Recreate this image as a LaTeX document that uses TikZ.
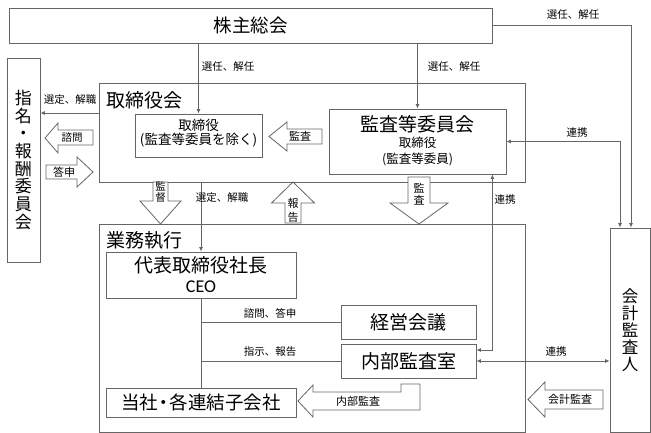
\documentclass[tikz,border=0pt]{standalone}
\usepackage{fontspec}
\setmainfont{Noto Sans CJK JP}
\newfontfamily\calfont{Carlito}
\usetikzlibrary{arrows.meta,calc}
\newcommand{\fsz}[1]{\fontsize{#1}{#1}\selectfont}
\newcommand{\fszl}[2]{\fontsize{#1}{#2}\selectfont}
\newcommand{\nakaguro}{\hspace{-0.18em}・\hspace{-0.18em}}
\begin{document}
\begin{tikzpicture}[x=1pt,y=-1pt,
  box/.style={draw=black!60, line width=0.8pt, fill=white, inner sep=0pt},
  ln/.style={draw=black!60, line width=0.8pt},
  arr/.style={ln, -{Latex[length=4.5pt,width=4pt]}},
  barr/.style={ln, {Latex[length=4.5pt,width=4pt]}-{Latex[length=4.5pt,width=4pt]}},
  blk/.style={draw=black!60, line width=0.8pt, fill=white, line join=miter},
  lbl/.style={font=\fsz{10.5}, inner sep=0pt},
  big/.style={font=\fsz{19}, inner sep=0pt},
]
\useasboundingbox[fill=white] (0,0) rectangle (651,433);

% boxes
\node[box, minimum width=483pt, minimum height=35pt, font=\fsz{18.5}] (sh) at (250.5,25.5) {株主総会};
\node[box, minimum width=33pt, minimum height=204pt, align=center, font=\fszl{17}{17.7}] (nom) at (23.5,160) {指\\名\\・\\報\\酬\\委\\員\\会};
\node[box, minimum width=426pt, minimum height=99pt] (tb) at (312,132.5) {};
\node[big, anchor=west] (tbt) at (106,100) {取締役会};
\node[box, minimum width=127pt, minimum height=43pt] (tr) at (198.5,135.5) {};
\node[align=center, font=\fszl{13.5}{14.5}, inner sep=0pt] (trt) at (198.5,133) {取締役\\(監査等委員を除く)};
\node[box, minimum width=177pt, minimum height=65pt] (ka) at (417.5,141.5) {};
\node[big] (kat) at (417.5,124) {監査等委員会};
\node[align=center, font=\fszl{12.5}{16}, inner sep=0pt] (kas) at (417.5,151) {取締役\\(監査等委員)};

\node[box, minimum width=426pt, minimum height=208pt] (gy) at (312,328) {};
\node[big, anchor=west] (gyt) at (106,240) {業務執行};
\node[box, minimum width=190pt, minimum height=46pt] (ceo) at (201,275) {};
\node[big] (ceot) at (201,265) {代表取締役社長};
\node[font=\calfont\fsz{18}, inner sep=0pt] (ceoe) at (201,287) {CEO};
\node[box, big, minimum width=135pt, minimum height=34pt] (kk) at (408.5,322) {経営会議};
\node[box, big, minimum width=135pt, minimum height=34pt] (nb) at (408.5,361) {内部監査室};
\node[box, big, font=\fsz{18.5}, minimum width=190pt, minimum height=29pt] (ts) at (201,402.5) {当社\nakaguro 各連結子会社};
\node[box, minimum width=40pt, minimum height=204pt, align=center, font=\fszl{16.5}{17}] (ak) at (630,330) {会\\計\\監\\査\\人};

% connectors
\draw[arr] (sh.south -| tr.north) -- (tr.north);
\node[lbl] (l1) at (228,67) {選任、解任};
\draw[arr] (sh.south -| ka.north) -- (ka.north);
\node[lbl] (l2) at (454,67) {選任、解任};
\draw[arr] (sh.east) -| ($(ak.north)+(1,0)$);
\node[lbl] (l3) at (573,15) {選任、解任};
\draw[barr] (ka.east) -| ($(ak.north)+(-10,0)$);
\node[lbl] (l4) at (577,133) {連携};
\draw[arr] (tb.west |- 0,113) -- (nom.east |- 0,113);
\node[lbl] (l5) at (70,100) {選定、解職};
\draw[arr] (tb.south -| ceo.north) -- (ceo.north);
\node[lbl] (l6) at (222,198) {選定、解職};
\draw[ln] (ceo.south) -- (ts.north);
\draw[ln] (ceo.south |- kk.west) -- (kk.west);
\draw[ln] (ceo.south |- nb.west) -- (nb.west);
\node[lbl] (l7) at (270,313) {諮問、答申};
\node[lbl] (l8) at (270,352) {指示、報告};
\draw[barr] ($(nb.east)+(0,-11)$) -| ($(ka.south east)+(-14,0)$);
\node[lbl] (l9) at (505,200) {連携};
\draw[barr] (nb.east) -- (nb.east -| ak.west);
\node[lbl] (l10) at (556,352) {連携};

% block arrows
\draw[blk] (322,129) -- (287,129) -- (287,122) -- (269,136.5) -- (287,151) -- (287,144) -- (322,144) -- cycle;
\node[lbl, font=\fsz{11}] (a1) at (300,136.5) {監査};
\draw[blk] (93,130) -- (58,130) -- (58,123) -- (45,138) -- (58,153) -- (58,145) -- (93,145) -- cycle;
\node[lbl, font=\fsz{10.5}] (a2) at (72,137.5) {諮問};
\draw[blk] (46,165) -- (77,165) -- (77,157) -- (93,172) -- (77,187) -- (77,179) -- (46,179) -- cycle;
\node[lbl, font=\fsz{11}] (a3) at (64,172) {答申};
\draw[blk] (153,182) -- (168,182) -- (168,201) -- (181,201) -- (160.5,224) -- (140,201) -- (153,201) -- cycle;
\node[align=center, font=\fszl{10.5}{11.5}, inner sep=0pt] (a4) at (160.5,192) {監\\督};
\draw[blk] (285,223) -- (285,203) -- (271.5,203) -- (293,182) -- (314.5,203) -- (301,203) -- (301,223) -- cycle;
\node[align=center, font=\fszl{11}{14}, inner sep=0pt] (a5) at (293,210) {報\\告};
\draw[blk] (408,177) -- (430,177) -- (430,203) -- (448,203) -- (419,224) -- (390,203) -- (408,203) -- cycle;
\node[align=center, font=\fszl{11}{11.5}, inner sep=0pt] (a6) at (419,194) {監\\査};
\draw[blk] (298,401) -- (313,385) -- (313,392) -- (401,392) -- (401,384) -- (420,384) -- (420,410) -- (313,410) -- (313,417) -- cycle;
\node[lbl, font=\fsz{11}] (a7) at (358,401.5) {内部監査};
\draw[blk] (603,390) -- (545,390) -- (545,382) -- (528,399.5) -- (545,417) -- (545,409) -- (603,409) -- cycle;
\node[lbl, font=\fsz{11}] (a8) at (570,399.5) {会計監査};
\end{tikzpicture}
\end{document}
